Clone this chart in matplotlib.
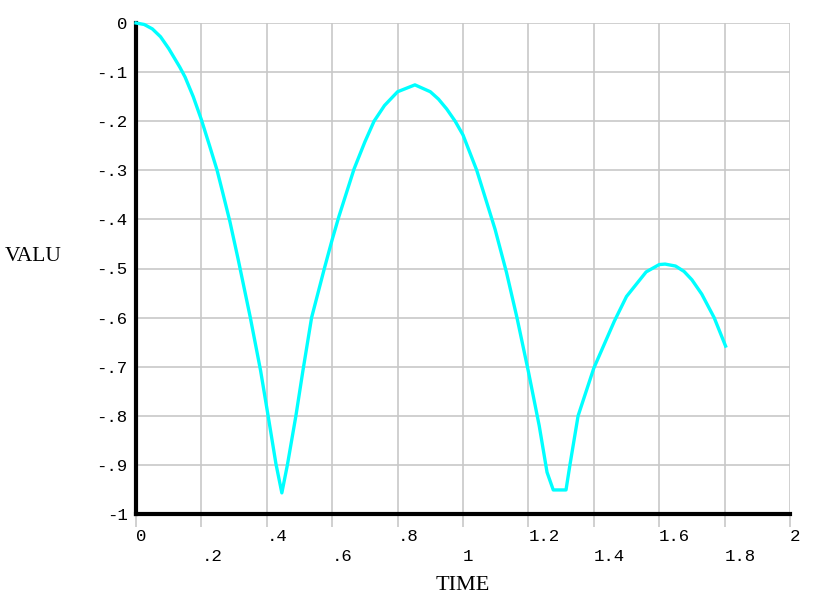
import matplotlib.pyplot as plt

# curve
time = [0, 0.025, 0.05, 0.075, 0.1, 0.134, 0.15, 0.175, 0.2, 0.225, 0.248, 0.265,
        0.287, 0.312, 0.349, 0.381, 0.404, 0.428, 0.446, 0.463, 0.489, 0.51, 0.537,
        0.576, 0.6, 0.621, 0.667, 0.7, 0.728, 0.76, 0.8, 0.853, 0.9, 0.925, 0.95,
        0.976, 1.0, 1.042, 1.098, 1.133, 1.165, 1.2, 1.233, 1.257, 1.276, 1.315, 1.327,
        1.352, 1.4, 1.463, 1.5, 1.56, 1.6, 1.618, 1.65, 1.676, 1.7, 1.73, 1.768, 1.803]
valu = [0, -0.003, -0.012, -0.028, -0.052, -0.09, -0.11, -0.15, -0.197, -0.25, -0.3, -0.345,
        -0.404, -0.48, -0.598, -0.708, -0.8, -0.898, -0.957, -0.9, -0.8, -0.71, -0.6,
        -0.5, -0.441, -0.393, -0.297, -0.242, -0.2, -0.168, -0.14, -0.126, -0.14, -0.155, -0.175,
        -0.2, -0.228, -0.3, -0.42, -0.508, -0.6, -0.71, -0.82, -0.915, -0.951, -0.951, -0.9,
        -0.8, -0.703, -0.607, -0.557, -0.507, -0.492, -0.491, -0.495, -0.506, -0.523, -0.552, -0.6, -0.658]

x_ticks = [0, 0.2, 0.4, 0.6, 0.8, 1.0, 1.2, 1.4, 1.6, 1.8, 2.0]
x_labels = ['0', '.2', '.4', '.6', '.8', '1', '1.2', '1.4', '1.6', '1.8', '2']
y_ticks = [0, -0.1, -0.2, -0.3, -0.4, -0.5, -0.6, -0.7, -0.8, -0.9, -1.0]
y_labels = ['0', '-.1', '-.2', '-.3', '-.4', '-.5', '-.6', '-.7', '-.8', '-.9', '-1']

grid_col = '#c8c8c8'
mono = 'Liberation Mono'
serif = 'Liberation Serif'

fig = plt.figure(figsize=(8.18, 6.02), dpi=100)
ax = fig.add_axes([136 / 818, 1 - 514 / 602, 654 / 818, 491 / 602])

ax.plot(time, valu, color='#00ffff', linewidth=2.4, zorder=4, clip_on=False)

ax.set_xlim(0, 2)
ax.set_ylim(-1, 0)

# staggered x labels: even ones on major ticks, odd ones on minor ticks
ax.set_xticks(x_ticks[::2], x_labels[::2])
ax.set_xticks(x_ticks[1::2], x_labels[1::2], minor=True)
ax.set_yticks(y_ticks, y_labels)

ax.grid(True, which='both', color=grid_col, linewidth=1.2, zorder=0)
ax.set_axisbelow(True)

ax.tick_params(axis='x', which='both', direction='out', length=9, width=1.2,
               color=grid_col, labelsize=12.5)
ax.tick_params(axis='x', which='major', pad=2)
ax.tick_params(axis='x', which='minor', pad=16)
ax.tick_params(axis='y', length=0, pad=6, labelsize=12.5)

for lab in ax.get_xticklabels() + ax.get_xticklabels(minor=True):
    lab.set_ha('left')
    lab.set_family(mono)
for lab in ax.get_yticklabels():
    lab.set_family(mono)

for side in ['top', 'right']:
    ax.spines[side].set_visible(False)
for side in ['left', 'bottom']:
    ax.spines[side].set_linewidth(3)
    ax.spines[side].set_color('black')
    ax.spines[side].set_zorder(3)

ax.set_ylabel('VALU', rotation=0, fontsize=15.5, family=serif, ha='left', va='center')
ax.yaxis.set_label_coords(-0.2, 0.525)
ax.set_xlabel('TIME', fontsize=16, family=serif, ha='center', va='center')
ax.xaxis.set_label_coords(0.499, -0.145)

fig.savefig('out.png', dpi=100)
